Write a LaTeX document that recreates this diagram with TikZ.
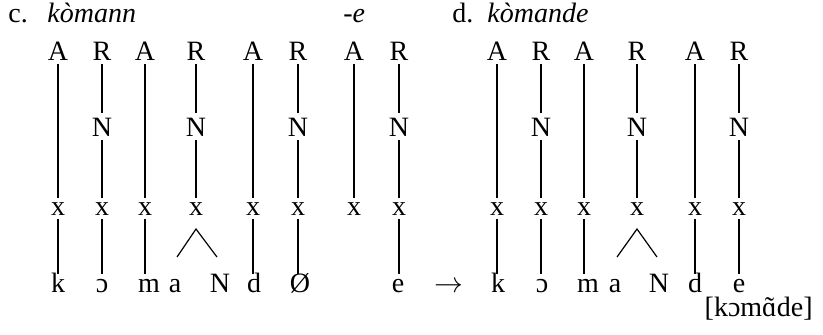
\documentclass[tikz,border=0pt]{standalone}
\usepackage{fontspec}
\setmainfont{Liberation Serif}
\newcommand{\nasv}[1]{\ooalign{#1\cr\hidewidth ˜\hidewidth\cr}}
\begin{document}
\begin{tikzpicture}[x=0.5pt, y=-0.5pt, font=\fontsize{14}{16}\selectfont,
	tier/.style={inner xsep=1pt, inner ysep=2pt, anchor=base},
	seg/.style={tier, inner ysep=1pt, text height=1.7ex},
	assoc/.style={line width=0.6pt}]
	\useasboundingbox (0,0) rectangle (823,334);

	% c. : komann + -e
	\node[anchor=base west, inner sep=0] (clab) at (8,22) {c.};
	\node[anchor=base west, inner sep=0] (cword) at (47,22) {\textit{kòmann}};
	\node[anchor=base west, inner sep=0] (csuf) at (343,22) {\textit{-e}};

	\node[tier] (cA1) at (58,60) {A};  \node[tier] (cR1) at (102,60) {R};
	\node[tier] (cA2) at (145,60) {A}; \node[tier] (cR2) at (196,60) {R};
	\node[tier] (cA3) at (253,60) {A}; \node[tier] (cR3) at (298,60) {R};
	\node[tier] (cA4) at (354,60) {A}; \node[tier] (cR4) at (399,60) {R};

	\node[tier] (cN1) at (102,136) {N}; \node[tier] (cN2) at (196,136) {N};
	\node[tier] (cN3) at (298,136) {N}; \node[tier] (cN4) at (399,136) {N};

	\node[tier] (cx1) at (58,215) {x};  \node[tier] (cx2) at (102,215) {x};
	\node[tier] (cx3) at (145,215) {x}; \node[tier] (cx4) at (196,215) {x};
	\node[tier] (cx5) at (253,215) {x}; \node[tier] (cx6) at (298,215) {x};
	\node[tier] (cx7) at (354,215) {x}; \node[tier] (cx8) at (399,215) {x};

	\node[seg] (ck) at (58,292) {k};  \node[seg] (co) at (102,292) {ɔ};
	\node[seg] (cm) at (149,292) {m}; \node[seg] (ca) at (175,292) {a};
	\node[seg] (cn) at (220,292) {N}; \node[seg] (cd) at (254,292) {d};
	\node[seg] (cz) at (300,292) {Ø}; \node[seg] (ce) at (398,292) {e};

	\draw[assoc] (cA1) -- (cx1);
	\draw[assoc] (cA2) -- (cx3);
	\draw[assoc] (cA3) -- (cx5);
	\draw[assoc] (cA4) -- (cx7);
	\draw[assoc] (cR1) -- (cN1) -- (cx2);
	\draw[assoc] (cR2) -- (cN2) -- (cx4);
	\draw[assoc] (cR3) -- (cN3) -- (cx6);
	\draw[assoc] (cR4) -- (cN4) -- (cx8);

	\draw[assoc] (cx1.south) -- (cx1.south |- ck.north);
	\draw[assoc] (cx2.south) -- (cx2.south |- ck.north);
	\draw[assoc] (cx3.south) -- (cx3.south |- ck.north);
	\draw[assoc] (cx5.south) -- (cx5.south |- ck.north);
	\draw[assoc] (cx6.south) -- (cx6.south |- ck.north);
	\draw[assoc] (cx8.south) -- (cx8.south |- ck.north);

	\coordinate (ccl) at (177,257);
	\coordinate (cctop) at (196,229);
	\coordinate (ccr) at (217,257);
	\draw[assoc] (ccl) -- (cctop) -- (ccr);

	\node[tier] (arr) at (449,292) {$\rightarrow$};

	% d. : komande
	\node[anchor=base west, inner sep=0] (dlab) at (452,22) {d.};
	\node[anchor=base west, inner sep=0] (dword) at (487,22) {\textit{kòmande}};

	\node[tier] (dA1) at (497,60) {A}; \node[tier] (dR1) at (541,60) {R};
	\node[tier] (dA2) at (584,60) {A}; \node[tier] (dR2) at (637,60) {R};
	\node[tier] (dA3) at (695,60) {A}; \node[tier] (dR3) at (739,60) {R};

	\node[tier] (dN1) at (541,136) {N}; \node[tier] (dN2) at (637,136) {N};
	\node[tier] (dN3) at (739,136) {N};

	\node[tier] (dx1) at (497,215) {x}; \node[tier] (dx2) at (541,215) {x};
	\node[tier] (dx3) at (584,215) {x}; \node[tier] (dx4) at (637,215) {x};
	\node[tier] (dx5) at (695,215) {x}; \node[tier] (dx6) at (739,215) {x};

	\node[seg] (dk) at (498,292) {k};  \node[seg] (do) at (542,292) {ɔ};
	\node[seg] (dm) at (588,292) {m};  \node[seg] (da) at (615,292) {a};
	\node[seg] (dn) at (659,292) {N};  \node[seg] (dd) at (695,292) {d};
	\node[seg] (de) at (739,292) {e};

	\draw[assoc] (dA1) -- (dx1);
	\draw[assoc] (dA2) -- (dx3);
	\draw[assoc] (dA3) -- (dx5);
	\draw[assoc] (dR1) -- (dN1) -- (dx2);
	\draw[assoc] (dR2) -- (dN2) -- (dx4);
	\draw[assoc] (dR3) -- (dN3) -- (dx6);

	\draw[assoc] (dx1.south) -- (dx1.south |- dk.north);
	\draw[assoc] (dx2.south) -- (dx2.south |- dk.north);
	\draw[assoc] (dx3.south) -- (dx3.south |- dk.north);
	\draw[assoc] (dx5.south) -- (dx5.south |- dk.north);
	\draw[assoc] (dx6.south) -- (dx6.south |- dk.north);

	\coordinate (dcl) at (617,257);
	\coordinate (dctop) at (637,229);
	\coordinate (dcr) at (657,257);
	\draw[assoc] (dcl) -- (dctop) -- (dcr);

	\node[anchor=base east, inner sep=0] (dphon) at (813,316) {[kɔm\nasv{ɑ}de]};
\end{tikzpicture}
\end{document}
